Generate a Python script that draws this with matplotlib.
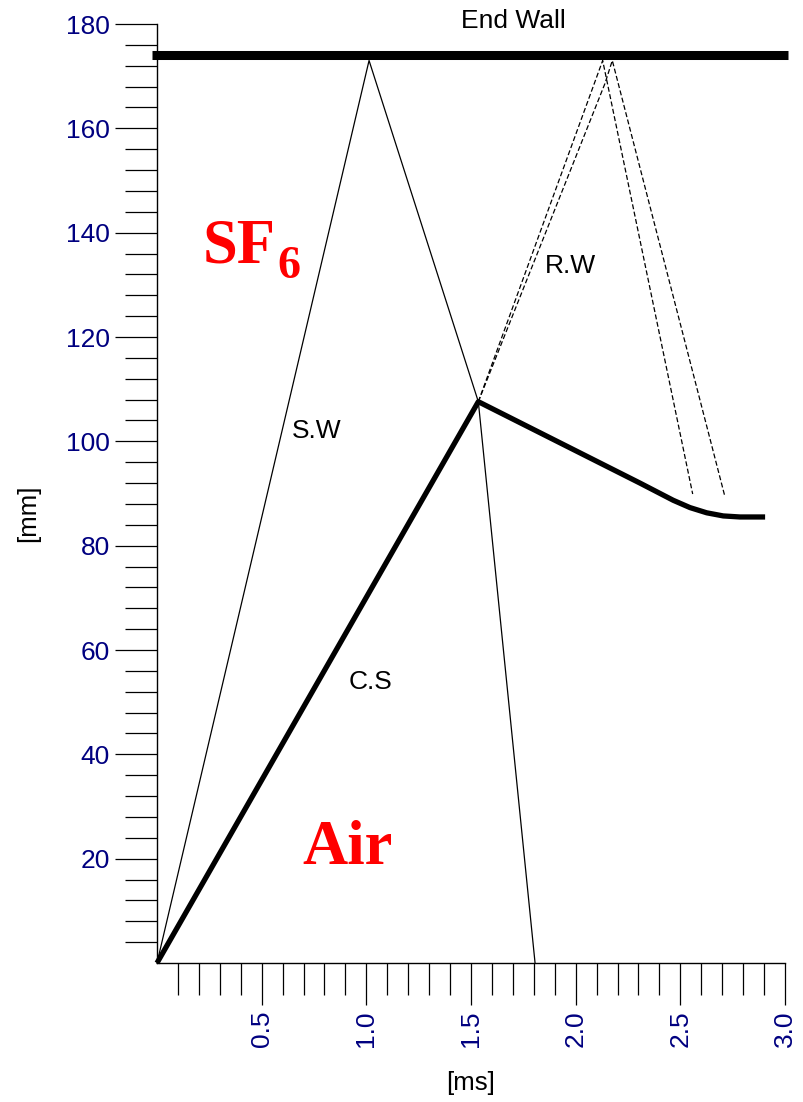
import matplotlib
matplotlib.use("Agg")
import matplotlib.pyplot as plt
import numpy as np
from matplotlib.ticker import FixedLocator

# ---- data (time in ms, position in mm) ----
wall_t = [-0.024, 3.014]
wall_y = [174.0, 174.0]

sw_t = [0.0, 1.013, 1.535, 1.806]
sw_y = [0.0, 173.0, 107.6, 0.0]

cs_t = [0.0, 1.535, 2.307, 2.466, 2.546, 2.626, 2.705, 2.785, 2.905]
cs_y = [0.0, 107.6, 92.0, 88.7, 87.3, 86.3, 85.7, 85.5, 85.5]

rwa_t = [1.535, 2.129, 2.559]
rwa_y = [107.6, 173.0, 89.9]

rwb_t = [1.535, 2.140, 2.175, 2.713]
rwb_y = [107.6, 168.6, 173.0, 89.4]

x_major = [0.5, 1.0, 1.5, 2.0, 2.5, 3.0]
x_labels = ["0.5", "1.0", "1.5", "2.0", "2.5", "3.0"]
y_major = [20, 40, 60, 80, 100, 120, 140, 160, 180]
y_labels = ["20", "40", "60", "80", "100", "120", "140", "160", "180"]

navy = "#000080"
sans = ["Liberation Sans", "DejaVu Sans"]
serif = ["Liberation Serif", "DejaVu Serif"]

fig = plt.figure(figsize=(8.04, 11.02), dpi=100)
ax = fig.add_axes([157/804, (1102-963)/1102, 628/804, (963-24)/1102])
ax.set_xlim(0, 3.0)
ax.set_ylim(0, 180)

for s in ["top", "right"]:
    ax.spines[s].set_visible(False)
for s in ["left", "bottom"]:
    ax.spines[s].set_linewidth(1.0)

# lines
ax.plot(wall_t, wall_y, color="black", lw=6.5, solid_capstyle="butt", clip_on=False)
ax.plot(sw_t, sw_y, color="black", lw=0.9, clip_on=False)
ax.plot(cs_t, cs_y, color="black", lw=3.8, solid_capstyle="butt",
        solid_joinstyle="round", clip_on=False)
ax.plot(rwa_t, rwa_y, color="black", lw=0.9, linestyle=(0, (4, 2)))
ax.plot(rwb_t, rwb_y, color="black", lw=0.9, linestyle=(0, (4, 2)))

# ticks
ax.xaxis.set_major_locator(FixedLocator(x_major))
ax.set_xticklabels(x_labels)
x_minor = [round(0.1 * i, 1) for i in range(1, 30) if i % 5 != 0]
ax.xaxis.set_minor_locator(FixedLocator(x_minor))
ax.yaxis.set_major_locator(FixedLocator(y_major))
ax.set_yticklabels(y_labels)
y_minor = [v for v in range(4, 180, 4) if v % 20 != 0]
ax.yaxis.set_minor_locator(FixedLocator(y_minor))

ax.tick_params(which="major", direction="out", length=30.5, width=0.9,
               labelsize=19, labelcolor=navy, pad=3.5)
ax.tick_params(which="minor", direction="out", length=23, width=0.9)
for lab in ax.get_xticklabels():
    lab.set_rotation(90)
    lab.set_family(sans)
for lab in ax.get_yticklabels():
    lab.set_family(sans)

# axis labels
fig.text(28/804, 1 - 513/1102, "[mm]", rotation=90, ha="center", va="center",
         fontsize=18.5, family=sans)
fig.text(471/804, 1 - 1083/1102, "[ms]", ha="center", va="center",
         fontsize=18.5, family=sans)

# annotations
ax.text(1.451, 179.2, "End Wall", fontsize=19, family=sans, ha="left",
        va="baseline", clip_on=False)
ax.text(0.646, 100.6, "S.W", fontsize=19, family=sans, ha="left", va="baseline")
ax.text(0.914, 52.5, "C.S", fontsize=19, family=sans, ha="left", va="baseline")
ax.text(1.854, 132.2, "R.W", fontsize=19, family=sans, ha="left", va="baseline")

ax.text(0.22, 134.2, "SF", fontsize=45, family=serif, weight="bold",
        color="red", ha="left", va="baseline")
ax.text(0.573, 131.3, "6", fontsize=33, family=serif, weight="bold",
        color="red", ha="left", va="baseline")
ax.text(0.693, 19.0, "Air", fontsize=45, family=serif, weight="bold",
        color="red", ha="left", va="baseline")

fig.savefig("out.png", dpi=100)
